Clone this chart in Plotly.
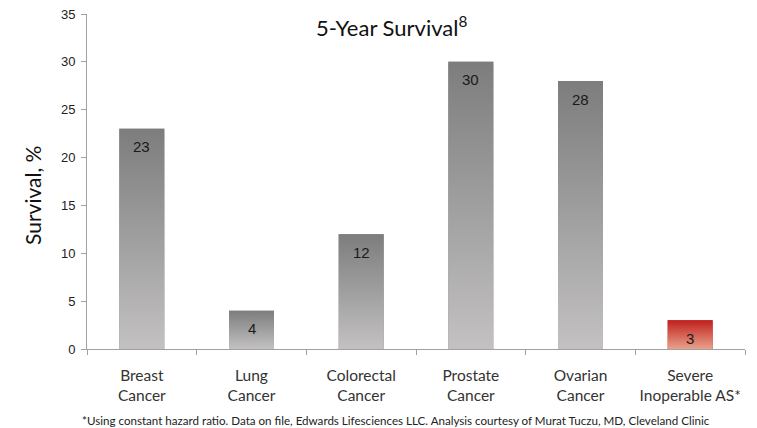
import plotly.graph_objects as go

categories = ["Breast<br>Cancer", "Lung<br>Cancer", "Colorectal<br>Cancer",
              "Prostate<br>Cancer", "Ovarian<br>Cancer", "Severe<br>Inoperable AS*"]
survival = [23, 4, 12, 30, 28, 3]
top_colors = ["#7d7d7d", "#7d7d7d", "#7d7d7d", "#7d7d7d", "#7d7d7d", "#c0201e"]
bottom_colors = ["#c3c1c1", "#c3c1c1", "#c3c1c1", "#c3c1c1", "#c3c1c1", "#e9a28b"]
y_ticks = [0, 5, 10, 15, 20, 25, 30, 35]

title_text = "5-Year Survival<sup>8</sup>"
y_title = "Survival, %"
footnote = ("*Using constant hazard ratio. Data on file, Edwards Lifesciences LLC. "
            "Analysis courtesy of Murat Tuczu, MD, Cleveland Clinic")

BAR_W = 0.41
positions = list(range(len(categories)))

fig = go.Figure()

# base bars (covered by gradient overlays)
fig.add_trace(go.Bar(x=positions, y=survival, width=BAR_W,
                     marker=dict(color=top_colors, line=dict(width=0)),
                     hoverinfo="skip", showlegend=False))

# vertical gradient fills per bar
for i, v in enumerate(survival):
    x0, x1 = positions[i] - BAR_W / 2, positions[i] + BAR_W / 2
    fig.add_trace(go.Scatter(
        x=[x0, x1, x1, x0, x0], y=[0, 0, v, v, 0],
        mode="none", fill="toself",
        fillgradient=dict(type="vertical",
                          colorscale=[[0, bottom_colors[i]], [1, top_colors[i]]]),
        hoverinfo="skip", showlegend=False))

axis_color = "#a0a0a0"

annotations = [
    dict(text=title_text, xref="paper", yref="paper", x=0.4635, y=0.964,
         xanchor="center", yanchor="middle", showarrow=False,
         font=dict(family="Lato", size=22, color="#111111")),
    dict(text=y_title, xref="paper", yref="paper", x=-0.082, y=0.457,
         xanchor="center", yanchor="middle", textangle=-90, showarrow=False,
         font=dict(family="Lato", size=21, color="#111111")),
    dict(text=footnote, xref="paper", yref="paper", x=0.469, y=-0.212,
         xanchor="center", yanchor="middle", showarrow=False,
         font=dict(family="Lato", size=11.6, color="#222222")),
]
# value labels inside bar tops
for p, v in zip(positions, survival):
    annotations.append(dict(text=str(v), x=p, y=v, xref="x", yref="y",
                            xanchor="center", yanchor="middle", yshift=-18,
                            showarrow=False,
                            font=dict(family="Liberation Sans", size=15, color="#1a1a1a")))

# The page body has an 8px margin, so the figure is offset by 8px.
fig.update_layout(
    width=749, height=420,
    margin=dict(l=79, r=12, t=6, b=79, autoexpand=False),
    paper_bgcolor="white", plot_bgcolor="white",
    showlegend=False,
    xaxis=dict(range=[-0.5, 5.5], tickmode="array", tickvals=positions,
               ticktext=categories, ticks="", showline=True, linecolor=axis_color,
               linewidth=1, showgrid=False, zeroline=False, automargin=False,
               ticklabelstandoff=12,
               tickfont=dict(family="Lato", size=15.5, color="#333333"),
               minor=dict(tickmode="array",
                          tickvals=[p - 0.5 for p in positions] + [positions[-1] + 0.5],
                          ticks="outside", ticklen=5, tickcolor=axis_color, showgrid=False)),
    yaxis=dict(range=[0, 35], tickmode="array", tickvals=y_ticks, ticks="outside",
               ticklen=5, tickcolor=axis_color, showline=True, linecolor=axis_color,
               linewidth=1, showgrid=False, zeroline=False, automargin=False,
               ticklabelstandoff=3, ticklabeloverflow="allow",
               tickfont=dict(family="Liberation Sans", size=13, color="#222222")),
    annotations=annotations,
)

fig.write_html("out.html")
